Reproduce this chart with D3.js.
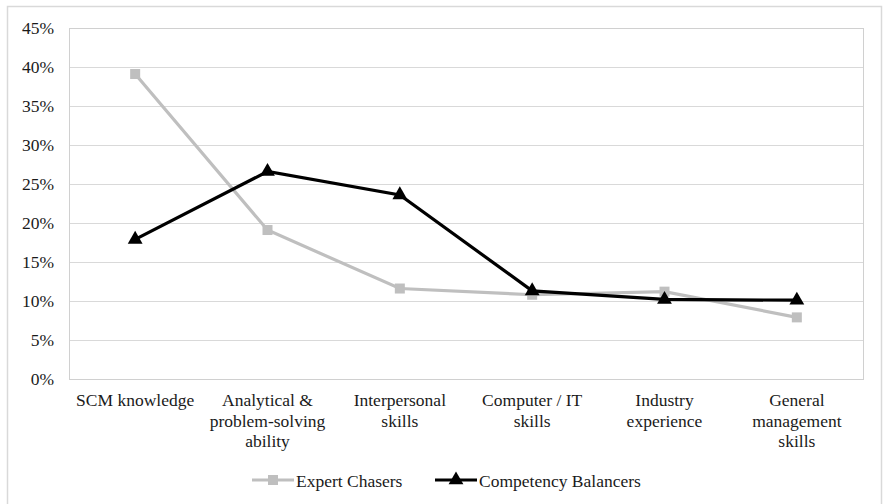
<!DOCTYPE html>
<html>
<head>
<meta charset="utf-8">
<script src="https://cdn.jsdelivr.net/npm/d3@7"></script>
</head>
<body style="margin:0">
<svg id="chart" width="884" height="504"></svg>
<script>
const categories = [
  ['SCM knowledge'],
  ['Analytical &', 'problem-solving', 'ability'],
  ['Interpersonal', 'skills'],
  ['Computer / IT', 'skills'],
  ['Industry', 'experience'],
  ['General', 'management', 'skills']
];
const expertChasers = [39.1, 19.1, 11.6, 10.8, 11.2, 7.9];
const competencyBalancers = [17.9, 26.6, 23.6, 11.3, 10.2, 10.1];
const yTicks = [0, 5, 10, 15, 20, 25, 30, 35, 40, 45];

const width = 884, height = 504;
const margin = { left: 69, top: 28, right: 21, bottom: 125 };
const FONT = 'Liberation Serif';
const FS = 17.5;

const svg = d3.select('#chart');

// outer chart border
svg.append('rect')
  .attr('x', 7.5).attr('y', 6.5)
  .attr('width', 874).attr('height', 510)
  .attr('fill', 'none')
  .attr('stroke', '#d9d9d9')
  .attr('stroke-width', 1.5);

const x = d3.scaleBand()
  .domain(d3.range(categories.length))
  .range([margin.left, width - margin.right]);

const y = d3.scaleLinear()
  .domain([0, 45])
  .range([height - margin.bottom, margin.top]);

// gridlines
svg.append('g')
  .selectAll('line')
  .data(yTicks)
  .join('line')
  .attr('x1', margin.left)
  .attr('x2', width - margin.right)
  .attr('y1', d => Math.round(y(d)) + 0.5)
  .attr('y2', d => Math.round(y(d)) + 0.5)
  .attr('stroke', '#d9d9d9')
  .attr('stroke-width', 1.2);

// plot area frame
svg.append('rect')
  .attr('x', margin.left + 0.5)
  .attr('y', Math.round(y(45)) + 0.5)
  .attr('width', width - margin.right - margin.left)
  .attr('height', y(0) - y(45))
  .attr('fill', 'none')
  .attr('stroke', '#d0d0d0')
  .attr('stroke-width', 1);

// y tick labels
svg.append('g')
  .selectAll('text')
  .data(yTicks)
  .join('text')
  .attr('x', 54)
  .attr('y', d => y(d) + 6)
  .attr('text-anchor', 'end')
  .attr('font-family', FONT)
  .attr('font-size', FS)
  .attr('fill', '#1a1a1a')
  .text(d => d + '%');

// x labels
const xl = svg.append('g')
  .selectAll('text')
  .data(categories)
  .join('text')
  .attr('text-anchor', 'middle')
  .attr('font-family', FONT)
  .attr('font-size', FS)
  .attr('fill', '#1a1a1a')
  .attr('transform', (d, i) => `translate(${x(i) + x.bandwidth() / 2},${y(0) + 27})`);

xl.selectAll('tspan')
  .data(d => d)
  .join('tspan')
  .attr('x', 0)
  .attr('dy', (d, i) => i === 0 ? 0 : 20.5)
  .text(d => d);

const cx = i => x(i) + x.bandwidth() / 2;
const line = d3.line().x((d, i) => cx(i)).y(d => y(d));

const triangle = d3.symbol().type(d3.symbolTriangle).size(95);

// Expert Chasers
svg.append('path')
  .datum(expertChasers)
  .attr('d', line)
  .attr('fill', 'none')
  .attr('stroke', '#bfbfbf')
  .attr('stroke-width', 3.2);

svg.append('g')
  .selectAll('rect')
  .data(expertChasers)
  .join('rect')
  .attr('x', (d, i) => cx(i) - 5)
  .attr('y', d => y(d) - 5)
  .attr('width', 10)
  .attr('height', 10)
  .attr('fill', '#bfbfbf');

// Competency Balancers
svg.append('path')
  .datum(competencyBalancers)
  .attr('d', line)
  .attr('fill', 'none')
  .attr('stroke', '#000')
  .attr('stroke-width', 3.2);

svg.append('g')
  .selectAll('path')
  .data(competencyBalancers)
  .join('path')
  .attr('d', triangle)
  .attr('transform', (d, i) => `translate(${cx(i)},${y(d)})`)
  .attr('fill', '#000');

// legend
const legend = svg.append('g').attr('transform', 'translate(0,480)');
const series = [
  { name: 'Expert Chasers', color: '#bfbfbf', marker: 'square', x0: 252 },
  { name: 'Competency Balancers', color: '#000', marker: 'triangle', x0: 435 }
];
series.forEach(s => {
  legend.append('line')
    .attr('x1', s.x0).attr('x2', s.x0 + 42)
    .attr('y1', 0).attr('y2', 0)
    .attr('stroke', s.color)
    .attr('stroke-width', 3.2);
  if (s.marker === 'square') {
    legend.append('rect')
      .attr('x', s.x0 + 16).attr('y', -5)
      .attr('width', 10).attr('height', 10)
      .attr('fill', s.color);
  } else {
    legend.append('path')
      .attr('d', triangle)
      .attr('transform', `translate(${s.x0 + 21},0)`)
      .attr('fill', s.color);
  }
  legend.append('text')
    .attr('x', s.x0 + 44)
    .attr('y', 6.5)
    .attr('font-family', FONT)
    .attr('font-size', FS)
    .attr('fill', '#1a1a1a')
    .text(s.name);
});
</script>
</body>
</html>
